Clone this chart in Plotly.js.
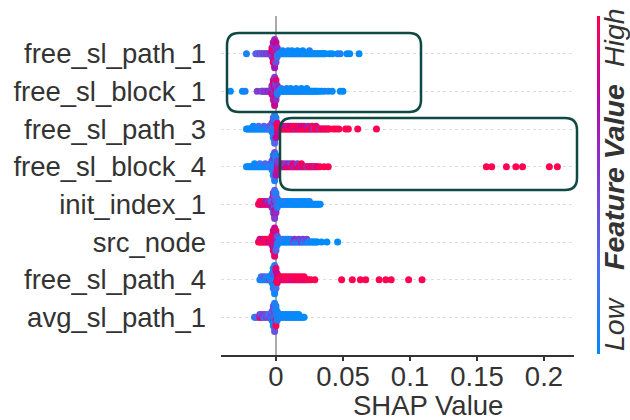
<!DOCTYPE html>
<html>
<head>
<meta charset="utf-8">
<script src="https://cdn.plot.ly/plotly-3.0.1.min.js"></script>
<style>html,body{margin:0;padding:0;background:#fff;}#chart{width:630px;height:420px;}</style>
</head>
<body>
<div id="chart"></div>
<script>
// Feature names, bottom row first
const features = ['avg_sl_path_1','free_sl_path_4','src_node','init_index_1','free_sl_block_4','free_sl_path_3','free_sl_block_1','free_sl_path_1'];
const xTickVals = [0, 0.05, 0.1, 0.15, 0.2];
const xTickText = ['0', '0.05', '0.1', '0.15', '0.2'];

// SHAP values in thousandths (x1000) and normalised feature values (0 = low, 10 = high)
const shap_free_sl_path_1 = [-22,-15,-14,-13,-12,-11,-10,-9,-8,-7,-6,-5,-4,
  -3,-3,-3,-3,-2,-2,-2,-2,-2,-2,-2,-2,-1,-1,-1,-1,-1,-1,-1,-1,-1,-1,-1,0,0,0,0,0,0,0,0,1,1,1,1,
  2,3,4,5,5,6,7,8,9,9,10,11,12,12,13,14,15,16,16,17,18,19,20,20,21,22,23,24,25,25,26,27,28,29,30,31,32,33,34,35,36,37,
  40,42,46,48,53,55,62];
const fval_free_sl_path_1 = [1,3,4,2,5,3,4,5,3,6,4,5,6,
  6,8,5,9,9,7,5,10,8,6,9,7,8,10,6,9,7,5,10,8,9,6,7,9,6,8,5,10,7,4,8,3,7,2,6,
  2,1,0,1,0,0,1,0,0,1,0,1,0,0,1,0,0,1,0,0,1,0,0,0,1,0,0,0,0,1,0,0,0,0,0,1,0,0,0,0,0,0,
  0,0,0,1,0,0,0];

const shap_free_sl_block_1 = [-34,-25,-23,-14,-11,-10,-9,-8,-7,-6,-5,-4,
  -3,-3,-3,-3,-2,-2,-2,-2,-2,-2,-2,-2,-1,-1,-1,-1,-1,-1,-1,-1,-1,-1,-1,0,0,0,0,0,0,0,0,1,1,1,1,
  2,3,4,4,5,6,7,8,8,9,10,11,11,12,13,14,15,15,16,17,18,19,19,20,21,22,23,23,24,25,26,27,28,29,30,31,32,
  34,36,39,42,48,50];
const fval_free_sl_block_1 = [0,0,1,5,6,4,5,6,4,7,5,6,
  7,5,9,6,8,6,9,5,7,10,6,8,4,9,5,7,6,8,10,7,9,5,8,6,9,7,5,8,3,6,9,2,5,1,6,
  3,1,0,1,0,0,1,0,1,0,0,1,0,0,1,0,0,1,0,0,0,1,0,0,0,1,0,0,0,1,0,0,0,1,0,0,0,
  0,0,1,0,0,0];

const shap_free_sl_path_3 = [-22,-21,-20,-19,-18,-17,-17,-16,-15,-14,-13,-13,-12,-11,-10,-9,-9,-8,-7,-6,-5,-5,-4,
  -3,-3,-3,-3,-2,-2,-2,-2,-2,-2,-2,-2,-1,-1,-1,-1,-1,-1,-1,-1,-1,-1,-1,0,0,0,0,0,0,0,0,1,1,1,1,
  2,3,3,4,5,5,6,7,7,8,9,9,10,11,11,12,13,13,14,15,15,16,17,17,18,19,19,20,21,21,22,23,24,24,25,26,27,27,28,29,30,30,31,32,33,34,35,36,37,38,39,40,
  43,45,47,52,54,61,75];
const fval_free_sl_path_3 = [0,0,1,0,0,1,0,0,1,0,0,2,0,1,0,0,3,1,0,2,1,4,2,
  1,3,0,5,2,0,4,1,3,6,0,2,1,3,0,5,2,0,1,4,0,2,3,0,2,1,6,0,3,8,1,9,10,8,9,
  10,9,10,8,10,9,10,10,7,9,10,9,10,10,8,10,9,10,10,6,10,9,10,10,9,10,7,10,10,9,10,10,9,6,10,10,9,10,5,10,10,9,10,10,6,10,9,10,10,9,10,10,
  10,10,10,10,10,10,10];

const shap_free_sl_block_4 = [-22,-21,-20,-19,-18,-17,-16,-16,-15,-14,-13,-12,-12,-11,-10,-9,-8,-8,-7,-6,-5,-4,-4,
  -3,-3,-3,-3,-2,-2,-2,-2,-2,-2,-2,-2,-1,-1,-1,-1,-1,-1,-1,-1,-1,-1,-1,0,0,0,0,0,0,0,0,1,1,1,1,
  2,3,3,4,5,5,6,7,7,8,9,9,10,11,11,12,13,13,14,15,16,16,17,18,19,19,20,21,22,23,24,25,26,27,28,29,30,31,
  33,36,39,157,161,172,179,184,204,210];
const fval_free_sl_block_4 = [0,0,0,1,0,0,1,0,0,0,1,0,2,0,0,1,0,3,1,0,2,1,3,
  0,2,1,4,1,0,3,0,2,5,1,0,2,0,1,3,0,6,1,0,2,4,1,0,3,1,0,5,2,7,1,8,6,9,5,
  6,8,5,9,7,10,6,8,5,9,10,6,8,9,5,10,7,9,6,10,8,5,10,9,6,10,8,10,9,5,10,9,10,8,10,6,10,9,
  10,10,10,10,10,10,10,10,10,10];

const shap_init_index_1 = [-13,-12,-12,-11,-10,-10,-9,-8,-8,-7,-6,-6,-5,-4,-4,
  -3,-3,-3,-3,-2,-2,-2,-2,-2,-2,-2,-2,-1,-1,-1,-1,-1,-1,-1,-1,-1,-1,-1,0,0,0,0,0,0,0,0,1,1,1,1,
  2,3,3,4,5,5,6,7,7,8,9,9,10,11,11,12,13,13,14,15,15,16,17,17,18,19,19,20,21,21,22,23,23,24,25,25,26,27,28,29,30,31,32,33];
const fval_init_index_1 = [10,9,10,10,8,10,9,10,7,9,8,6,9,7,5,
  5,3,7,2,6,4,8,3,5,9,2,6,4,7,3,5,8,2,6,4,9,3,5,7,2,5,4,8,3,6,1,2,4,1,3,
  2,1,0,1,0,0,1,0,2,0,1,0,0,1,0,0,1,0,0,0,1,0,0,1,0,0,0,1,0,0,0,1,0,0,0,1,0,0,0,0,1,0,0,0];

const shap_src_node = [-13,-12,-12,-11,-10,-10,-9,-8,-8,-7,-6,-6,-5,-4,-4,
  -3,-3,-3,-3,-2,-2,-2,-2,-2,-2,-2,-2,-1,-1,-1,-1,-1,-1,-1,-1,-1,-1,-1,0,0,0,0,0,0,0,0,1,1,1,1,
  2,3,3,4,5,5,6,7,7,8,9,9,10,11,11,12,13,14,14,15,16,17,17,18,19,20,20,21,22,23,23,24,25,26,27,28,29,30,31,
  34,38,46];
const fval_src_node = [10,10,9,10,10,8,10,9,10,10,9,10,8,10,9,
  9,10,8,10,10,8,9,10,7,10,9,8,10,9,6,10,8,10,9,7,10,8,9,10,7,9,10,5,8,3,9,2,6,1,4,
  2,1,0,1,0,2,1,0,1,0,0,1,0,0,1,0,5,1,6,0,4,1,5,0,6,1,5,0,4,1,5,0,1,0,0,1,0,0,0,
  0,0,0];

const shap_free_sl_path_4 = [-12,-11,-11,-10,-9,-9,-8,-7,-7,-6,-5,-5,-4,
  -3,-3,-3,-3,-2,-2,-2,-2,-2,-2,-2,-2,-1,-1,-1,-1,-1,-1,-1,-1,-1,-1,-1,0,0,0,0,0,0,0,0,1,1,1,1,
  2,3,3,4,5,5,6,7,7,8,9,9,10,11,11,12,13,13,14,15,15,16,17,17,18,19,19,20,21,21,22,23,24,
  26,29,49,57,63,67,77,82,86,99,109];
const fval_free_sl_path_4 = [1,0,2,1,0,4,1,0,2,1,5,0,2,
  1,0,3,0,2,0,1,4,0,2,1,0,3,0,1,5,0,2,1,0,3,1,0,2,0,6,1,0,8,2,9,10,9,10,8,
  10,9,10,10,8,10,9,10,10,9,10,10,9,10,10,8,10,10,9,10,10,9,10,10,10,9,10,10,8,10,10,9,10,
  10,10,10,10,10,10,10,10,10,10,10];

const shap_avg_sl_path_1 = [-16,-15,-14,-13,-12,-12,-11,-11,-10,-9,-9,-8,-7,-7,-6,-5,-5,-4,
  -3,-3,-3,-3,-2,-2,-2,-2,-2,-2,-2,-2,-1,-1,-1,-1,-1,-1,-1,-1,-1,-1,-1,0,0,0,0,0,0,0,0,1,1,1,1,
  2,3,3,4,5,5,6,7,7,8,9,9,10,11,11,12,13,13,14,15,15,16,17,17,18,19,20,21,22,23,24,
  35];
const fval_avg_sl_path_1 = [2,1,3,2,9,5,10,4,6,3,5,2,6,4,3,5,2,4,
  2,5,1,4,3,0,6,2,1,5,0,3,2,4,0,6,1,3,0,5,2,1,4,0,3,9,1,5,2,10,1,0,2,1,0,
  1,0,2,0,1,0,0,1,0,0,1,0,0,1,0,0,0,1,0,0,0,1,0,0,0,0,0,
  0];

const rows = [
  [shap_avg_sl_path_1, fval_avg_sl_path_1],
  [shap_free_sl_path_4, fval_free_sl_path_4],
  [shap_src_node, fval_src_node],
  [shap_init_index_1, fval_init_index_1],
  [shap_free_sl_block_4, fval_free_sl_block_4],
  [shap_free_sl_path_3, fval_free_sl_path_3],
  [shap_free_sl_block_1, fval_free_sl_block_1],
  [shap_free_sl_path_1, fval_free_sl_path_1]
];

// beeswarm stacking (same idea as shap's summary plot)
const rowHeight = 0.5;
function swarm(xs) {
  const n = xs.length;
  const idx = [...Array(n).keys()].sort((a, b) => (xs[a] - xs[b]) || (a - b));
  const ys = new Array(n).fill(0);
  let layer = 0, last = null;
  for (const i of idx) {
    if (xs[i] !== last) layer = 0;
    ys[i] = Math.ceil(layer / 2) * ((layer % 2) * 2 - 1);
    layer++; last = xs[i];
  }
  const m = Math.max(...ys.map(v => v + 1));
  return ys.map(v => v * 0.9 * rowHeight / m);
}

const X = [], Y = [], C = [];
rows.forEach((r, k) => {
  const xs = r[0], cs = r[1];
  const n = Math.min(xs.length, cs.length);
  const off = swarm(xs.slice(0, n));
  for (let i = 0; i < n; i++) {
    X.push(xs[i] / 1000); Y.push(k + off[i]); C.push(cs[i]);
  }
});

const L = 221, R = 56, T = 16, B = 65, W = 630, H = 420;
const pw = W - L - R, ph = H - T - B;
const px = v => (v - L) / pw;
const py = v => (H - B - v) / ph;
function roundRect(x0, y0, x1, y1, r) {
  const P = (x, y) => px(x).toFixed(5) + ',' + py(y).toFixed(5);
  return 'M' + P(x0 + r, y0) + ' L' + P(x1 - r, y0) + ' Q' + P(x1, y0) + ' ' + P(x1, y0 + r) +
    ' L' + P(x1, y1 - r) + ' Q' + P(x1, y1) + ' ' + P(x1 - r, y1) +
    ' L' + P(x0 + r, y1) + ' Q' + P(x0, y1) + ' ' + P(x0, y1 - r) +
    ' L' + P(x0, y0 + r) + ' Q' + P(x0, y0) + ' ' + P(x0 + r, y0) + ' Z';
}

const colorscale = [[0, '#008bfb'], [0.25, '#4a6ff0'], [0.5, '#7c3fd6'], [0.75, '#b50aa6'], [1, '#ff0052']];
const xRange = [-0.041, 0.2224];

const trace = {
  type: 'scatter', mode: 'markers', x: X, y: Y,
  marker: {
    size: 7, color: C, cmin: 0, cmax: 10, colorscale: colorscale, line: {width: 0},
    showscale: true,
    colorbar: {
      x: px(597), xanchor: 'left', xpad: 0, ypad: 0, thickness: 3,
      len: 338, lenmode: 'pixels', y: 0.5, yanchor: 'middle',
      outlinewidth: 0, showticklabels: false, ticks: ''
    }
  },
  hoverinfo: 'skip', showlegend: false
};
// empty helper trace so the tick-mark axis exists
const tickTrace = {type: 'scatter', mode: 'markers', x: [], y: [], xaxis: 'x2', yaxis: 'y', hoverinfo: 'skip', showlegend: false};

const font = 'Liberation Sans, Arial, sans-serif';
const layout = {
  width: W, height: H,
  margin: {l: L, r: R, t: T, b: B, pad: 0},
  paper_bgcolor: '#fff', plot_bgcolor: '#fff',
  font: {family: font, color: '#333'},
  xaxis: {
    range: xRange, tickvals: xTickVals, ticktext: xTickText,
    ticks: 'outside', ticklen: 0, tickwidth: 0, ticklabelstandoff: -4,
    showline: true, linecolor: '#333', linewidth: 1.5,
    showgrid: false, zeroline: true, zerolinecolor: '#aaaaaa', zerolinewidth: 2,
    tickfont: {size: 27.5, color: '#333'}
  },
  xaxis2: {
    overlaying: 'x', anchor: 'y', side: 'bottom', range: xRange, tickvals: xTickVals,
    ticks: 'outside', ticklen: 5, tickwidth: 1.5, tickcolor: '#333',
    showticklabels: false, showline: false, showgrid: false, zeroline: false
  },
  yaxis: {
    range: [-1, 8], tickvals: features.map((f, i) => i), ticktext: features,
    showgrid: true, gridcolor: '#dddddd', griddash: 'dot', gridwidth: 1,
    zeroline: false, showline: false, ticks: '', ticklabelstandoff: 14,
    tickfont: {size: 27.5, color: '#333'}
  },
  shapes: [
    {type: 'path', xref: 'paper', yref: 'paper', path: roundRect(227, 33, 421, 112, 12), line: {color: '#0e4a43', width: 2.5}},
    {type: 'path', xref: 'paper', yref: 'paper', path: roundRect(280, 118, 577, 190, 12), line: {color: '#0e4a43', width: 2.5}}
  ],
  annotations: [
    {text: 'SHAP Value', xref: 'paper', yref: 'paper', x: px(428), y: py(405), showarrow: false, xanchor: 'center', yanchor: 'middle', font: {size: 27.5, color: '#333'}},
    {text: '<i>High</i>', xref: 'paper', yref: 'paper', x: px(614), y: py(38), textangle: -90, showarrow: false, xanchor: 'center', yanchor: 'middle', font: {size: 28.5, color: '#333'}},
    {text: '<b><i>Feature Value</i></b>', xref: 'paper', yref: 'paper', x: px(614), y: py(177), textangle: -90, showarrow: false, xanchor: 'center', yanchor: 'middle', font: {size: 28.5, color: '#333'}},
    {text: '<i>Low</i>', xref: 'paper', yref: 'paper', x: px(614), y: py(324), textangle: -90, showarrow: false, xanchor: 'center', yanchor: 'middle', font: {size: 28.5, color: '#333'}}
  ]
};

Plotly.newPlot('chart', [trace, tickTrace], layout, {staticPlot: true, displayModeBar: false});
</script>
</body>
</html>
